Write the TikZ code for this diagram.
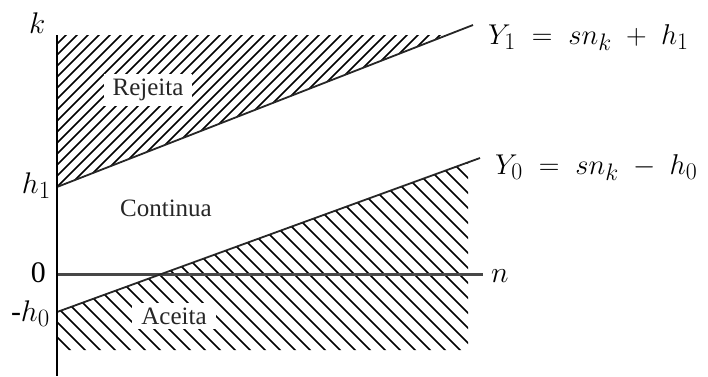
\documentclass[tikz,border=0pt]{standalone}
\usepackage{fontspec}
\setmainfont{Liberation Serif}
\begin{document}
\begin{tikzpicture}[x=1pt,y=-1pt,
  axis/.style={line width=1.8pt,black},
  naxis/.style={line width=3pt,black!72},
  bound/.style={line width=1.8pt,black!85},
  hatchline/.style={line width=1.7pt,black},
  region/.style={font=\fontsize{25}{28}\selectfont,inner sep=2pt,text=black!85},
  regionbox/.style={region,fill=white,inner xsep=9pt,inner ysep=5pt},
  mlabel/.style={font=\fontsize{24.88}{30}\selectfont,inner sep=0pt}]
\useasboundingbox (0,0) rectangle (708,376);
% coordinates
\coordinate (ktop) at (57,35);
\coordinate (kbot) at (57,376);
\coordinate (o) at (57,274);
\coordinate (nend) at (483,274);
\coordinate (h1) at (57,187);
\coordinate (y1end) at (473,25);
\coordinate (h0) at (57,312);
\coordinate (y0end) at (480,158);
% upper hatch
\begin{scope}
  \clip (57,35) -- (447,35) -- (57,187) -- cycle;
  \foreach \i in {0,...,55} \draw[hatchline] ({\i*11-143},200) -- ++(200,-200);
\end{scope}
% lower hatch
\begin{scope}
  \clip (57,312) -- (468,162.4) -- (468,350) -- (57,350) -- cycle;
  \foreach \i in {0,...,50} \draw[hatchline] ({\i*15-160},150) -- ++(210,210);
\end{scope}
% lines
\draw[naxis] (o) -- (nend);
\draw[bound] (h1) -- (y1end);
\draw[bound] (h0) -- (y0end);
\draw[axis] (ktop) -- (kbot);
% labels
\node[regionbox] (rej) at (148,90) {Rejeita};
\node[region] (cont) at (166,208) {Continua};
\node[regionbox] (ace) at (174,316) {Aceita};
\node[mlabel,anchor=base west] (ly1) at (488,44) {\scalebox{1.15}{$Y_1 \;=\; sn_k \;+\; h_1$}};
\node[mlabel,anchor=base west] (ly0) at (495,174) {\scalebox{1.15}{$Y_0 \;=\; sn_k \;-\; h_0$}};
\node[mlabel,anchor=base west] (lk) at (29,33) {\scalebox{1.2}{$k$}};
\node[mlabel,anchor=base west] (ln) at (491,282) {\scalebox{1.2}{$n$}};
\node[mlabel,anchor=base east] (lh1) at (51,193) {\scalebox{1.2}{$h_1$}};
\node[mlabel,anchor=base east] (l0) at (46,282) {\scalebox{1.2}{0}};
\node[mlabel,anchor=base east] (lh0) at (50,321) {\scalebox{1.2}{-$h_0$}};
\end{tikzpicture}
\end{document}
